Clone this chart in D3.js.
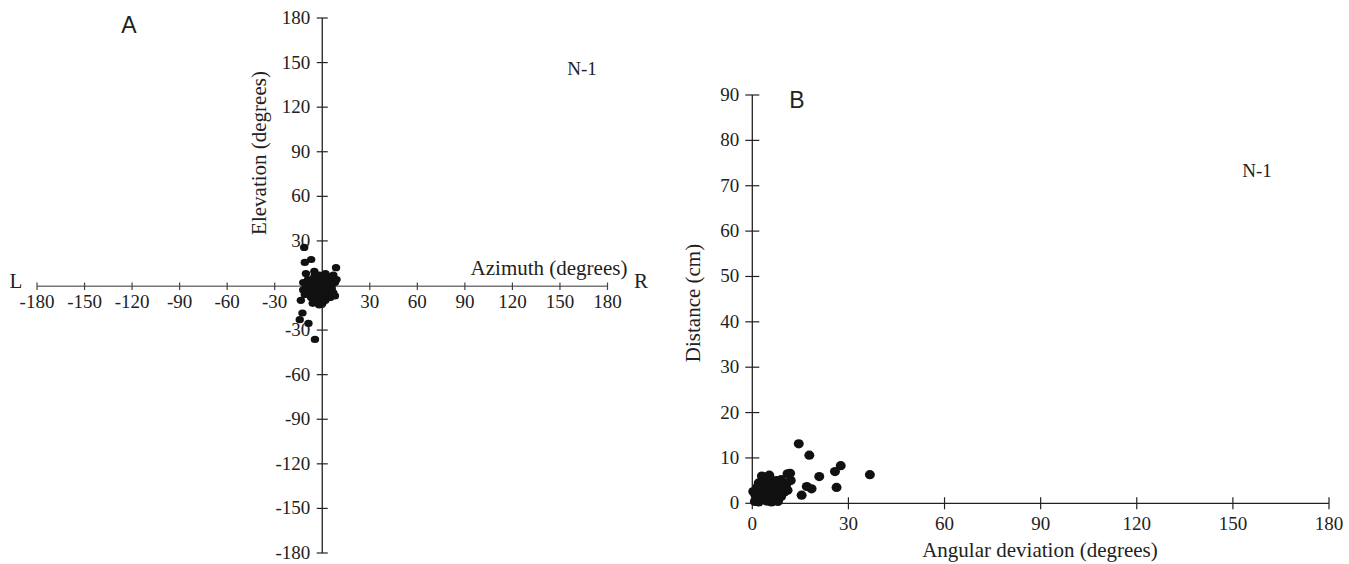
<!DOCTYPE html>
<html><head><meta charset="utf-8">
<script src="https://cdn.jsdelivr.net/npm/d3@7"></script>
<style>html,body{margin:0;padding:0;background:#fff;}svg{display:block;}</style>
</head><body>
<svg id="c" width="1349" height="564"></svg>
<script>
// ---- Data ----
const ticksA = [-180,-150,-120,-90,-60,-30,0,30,60,90,120,150,180];
const ticksAy = [-180,-150,-120,-90,-60,-30,30,60,90,120,150,180];
const ticksBx = [0,30,60,90,120,150,180];
const ticksBy = [0,10,20,30,40,50,60,70,80,90];

const azimuthA = [-11.4,-11,-7,-10.3,-5,8.7,-13.5,-12.5,-14.2,-8.7,-4.6,
  -12,-12,-11,-9,-8,-8,-7,-6,-6,-5,-5,-4,-3,-3,-2,-2,-1,-1,0,0,0,1,1,2,2,3,3,4,4,5,5,6,6,7,7,8,8,-10,-4,2,-2,-6,9,-3,
  -1,1,3,5,-7,-9,0,2,4,6,-4,-2];
const elevationA = [25.6,15.5,17.5,8,9.5,12,-10,-18.5,-23,-25.5,-36.3,
  2,-3,-6,4,0,-4,-8,3,-2,6,-10,-6,2,-3,7,-1,4,-8,-12,1,-4,5,-2,8,-6,3,-1,6,-4,1,-8,4,-2,7,-5,2,-7,-1,0,1,-13,-12,4,5,
  0,2,-3,-1,-5,1,-7,-10,3,1,-9,-5];

const angleB = [14.5,17.8,27.6,25.8,20.9,26.3,17.0,18.5,15.4,11.8,36.7,
  0.3,0.8,1,1.5,2,2,3,3,3.5,4,4.5,5,5.5,6,6,7,7.5,8,8.5,9,10,10.5,11,12,3,1,2.5,4,5,8,9.5,4,5.3,11,6.5,
  2,3.5,4.5,6,7,8.5,1.5,3,5,9];
const distanceB = [13.1,10.6,8.3,7.0,5.9,3.5,3.7,3.2,1.8,6.6,6.3,
  2.6,0.4,2.5,1,3,0.3,1.5,4,5.5,2.5,0.5,3.5,1.5,4.5,0.3,2.5,5,1,3.5,5.2,2.5,4,6.5,5,6,1.8,2,1,5.5,0.4,3,5.8,6.2,2.9,3,
  4.5,3,4,2,4,2,3.5,1,0.8,1.5];

const labelsA = {title:"A", x:"Azimuth (degrees)", y:"Elevation (degrees)", n:"N-1", left:"L", right:"R"};
const labelsB = {title:"B", x:"Angular deviation (degrees)", y:"Distance (cm)", n:"N-1"};

// ---- Drawing ----
const svg = d3.select("#c");
const serif = "Liberation Serif, Times New Roman, serif";
const sans = "Liberation Sans, Arial, sans-serif";
const txt = "#222";
const tickFs = 19, titleFs = 21;

// Panel A
const xA = d3.scaleLinear().domain([-180,180]).range([37,607.5]);
const yA = d3.scaleLinear().domain([-180,180]).range([553,18]);
const gA = svg.append("g");
gA.append("line").attr("x1",xA(-180)).attr("x2",xA(180)).attr("y1",yA(0)+0.8).attr("y2",yA(0)+0.8).attr("stroke","#777").attr("stroke-width",1.4);
gA.append("line").attr("x1",xA(0)).attr("x2",xA(0)).attr("y1",yA(180)).attr("y2",yA(-180)).attr("stroke","#222").attr("stroke-width",1.3);
gA.selectAll(".tx").data(ticksA).join("line").attr("x1",d=>xA(d)).attr("x2",d=>xA(d)).attr("y1",yA(0)-3).attr("y2",yA(0)+4.5).attr("stroke","#444").attr("stroke-width",1.2);
gA.selectAll(".ty").data(ticksAy).join("line").attr("x1",xA(0)-5.5).attr("x2",xA(0)+5.5).attr("y1",d=>yA(d)).attr("y2",d=>yA(d)).attr("stroke","#222").attr("stroke-width",1.2);

gA.selectAll(".lx").data(ticksA).join("text").attr("x",d=>xA(d)).attr("y",yA(0)+22)
  .attr("text-anchor","middle").attr("font-family",serif).attr("font-size",tickFs).attr("fill",txt).text(d=>d);
gA.selectAll(".ly").data(ticksAy).join("text").attr("x",xA(0)-12).attr("y",d=>yA(d)+6)
  .attr("text-anchor","end").attr("font-family",serif).attr("font-size",tickFs).attr("fill",txt).text(d=>d);

// dots A
gA.selectAll(".dA").data(azimuthA.map((a,i)=>[a,elevationA[i]])).join("ellipse")
  .attr("cx",d=>xA(d[0])).attr("cy",d=>yA(d[1])).attr("rx",4.2).attr("ry",3.6).attr("fill","#111");

gA.append("text").attr("x",16).attr("y",288).attr("text-anchor","middle").attr("font-family",serif).attr("font-size",titleFs).attr("fill",txt).text(labelsA.left);
gA.append("text").attr("x",641).attr("y",288).attr("text-anchor","middle").attr("font-family",serif).attr("font-size",titleFs).attr("fill",txt).text(labelsA.right);
gA.append("text").attr("x",549).attr("y",275).attr("text-anchor","middle").attr("font-family",serif).attr("font-size",titleFs).attr("fill",txt).text(labelsA.x);
gA.append("text").attr("transform","translate(266,153) rotate(-90)").attr("text-anchor","middle").attr("font-family",serif).attr("font-size",titleFs).attr("fill",txt).text(labelsA.y);
gA.append("text").attr("x",582).attr("y",75).attr("text-anchor","middle").attr("font-family",serif).attr("font-size",19).attr("fill",txt).text(labelsA.n);
gA.append("text").attr("x",129).attr("y",33).attr("text-anchor","middle").attr("font-family",sans).attr("font-size",23).attr("fill",txt).text(labelsA.title);

// Panel B
const xB = d3.scaleLinear().domain([0,180]).range([752.3,1329]);
const yB = d3.scaleLinear().domain([0,90]).range([503.3,95]);
const gB = svg.append("g");
gB.append("line").attr("x1",xB(0)).attr("x2",xB(180)).attr("y1",yB(0)).attr("y2",yB(0)).attr("stroke","#222").attr("stroke-width",1.3);
gB.append("line").attr("x1",xB(0)).attr("x2",xB(0)).attr("y1",yB(90)).attr("y2",yB(0)).attr("stroke","#222").attr("stroke-width",1.3);
gB.selectAll(".tx").data(ticksBx).join("line").attr("x1",d=>xB(d)).attr("x2",d=>xB(d)).attr("y1",yB(0)-6).attr("y2",yB(0)+6).attr("stroke","#222").attr("stroke-width",1.2);
gB.selectAll(".ty").data(ticksBy).join("line").attr("x1",xB(0)-7).attr("x2",xB(0)+7).attr("y1",d=>yB(d)).attr("y2",d=>yB(d)).attr("stroke","#222").attr("stroke-width",1.2);
gB.selectAll(".lx").data(ticksBx).join("text").attr("x",d=>xB(d)).attr("y",yB(0)+27)
  .attr("text-anchor","middle").attr("font-family",serif).attr("font-size",tickFs).attr("fill",txt).text(d=>d);
gB.selectAll(".ly").data(ticksBy).join("text").attr("x",xB(0)-13).attr("y",d=>yB(d)+6)
  .attr("text-anchor","end").attr("font-family",serif).attr("font-size",tickFs).attr("fill",txt).text(d=>d);
gB.selectAll(".dB").data(angleB.map((a,i)=>[a,distanceB[i]])).join("ellipse")
  .attr("cx",d=>xB(d[0])).attr("cy",d=>yB(d[1])).attr("rx",5).attr("ry",4.6).attr("fill","#111");
gB.append("text").attr("x",1040).attr("y",557).attr("text-anchor","middle").attr("font-family",serif).attr("font-size",titleFs).attr("fill",txt).text(labelsB.x);
gB.append("text").attr("transform","translate(700,303) rotate(-90)").attr("text-anchor","middle").attr("font-family",serif).attr("font-size",titleFs).attr("fill",txt).text(labelsB.y);
gB.append("text").attr("x",1257).attr("y",177).attr("text-anchor","middle").attr("font-family",serif).attr("font-size",19).attr("fill",txt).text(labelsB.n);
gB.append("text").attr("x",797).attr("y",108).attr("text-anchor","middle").attr("font-family",sans).attr("font-size",23).attr("fill",txt).text(labelsB.title);
</script>
</body></html>
